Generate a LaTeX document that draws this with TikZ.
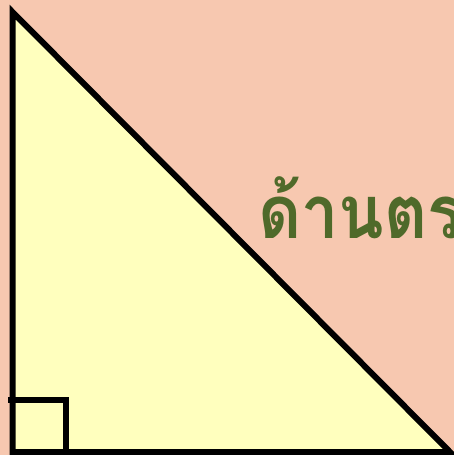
\documentclass[tikz,border=0pt]{standalone}
\usepackage{fontspec}
\newfontfamily\thaifont[Script=Thai, FakeStretch=0.9]{Loma}
\usepackage{tikz}
\usetikzlibrary{positioning}
\usepackage{xcolor}
\definecolor{bgsalmon}{HTML}{F7C8B0}
\definecolor{triyellow}{HTML}{FFFFBE}
\definecolor{labelgreen}{HTML}{4F6A2A}

\begin{document}
\begin{tikzpicture}[
    x=1pt, y=-1pt,
    edge/.style={draw=black, line width=6pt, line join=miter},
    label/.style={text=labelgreen, font=\thaifont\bfseries\fontsize{74}{90}\selectfont, anchor=base west, inner sep=0pt}
]

% Background
\fill[bgsalmon] (0,0) rectangle (454,455);
\clip (0,0) rectangle (454,455);
\useasboundingbox (0,0) rectangle (454,455);

% Triangle
\coordinate (top) at (12.5,12);
\coordinate (corner) at (12.5,452);
\coordinate (right) at (450,452);
\fill[triyellow] (top) -- (corner) -- (right) -- cycle;
\draw[edge] (top) -- (corner) -- (right) -- cycle;

% Right angle
\draw[edge] (8,400) -- (65.5,400) -- (65.5,452);

% Label
\node[label] (hyp) at (258,238) {ด้านตร};

\end{tikzpicture}
\end{document}
